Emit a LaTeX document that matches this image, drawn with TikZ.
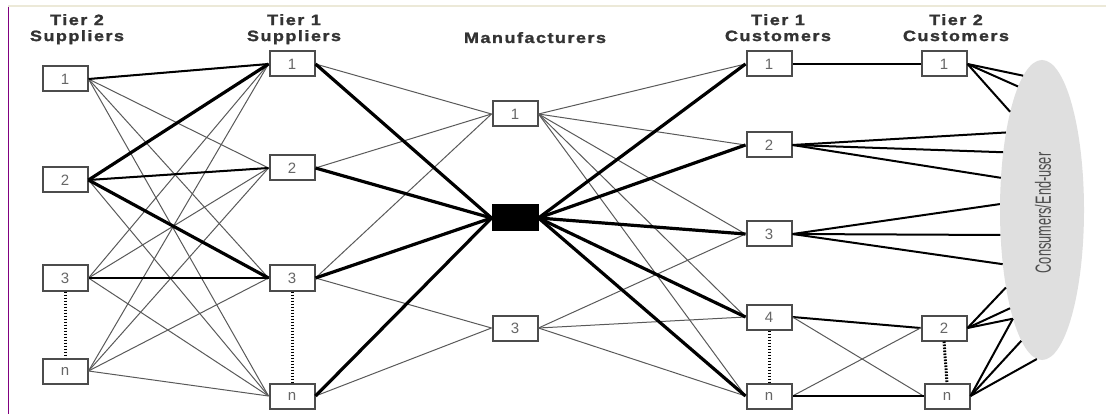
\documentclass[tikz,border=0pt]{standalone}
\usepackage{fontspec}
\setmainfont{Liberation Sans}
\newfontfamily\hdrfont[FakeStretch=1.2,LetterSpace=10,FakeBold=1.5]{Liberation Sans}
\newfontfamily\narrowfont[FakeStretch=0.58]{Liberation Sans}
\usetikzlibrary{shapes.geometric}
\definecolor{pagetop}{RGB}{236,233,216}
\definecolor{pageleft}{RGB}{128,0,128}
\tikzset{font=\fontsize{15}{16}\selectfont}
\tikzset{box/.style={draw=black!70, line width=2pt, fill=white,
    minimum width=45pt, minimum height=25pt, inner sep=0pt, text=black!60}}
\tikzset{hdr/.style={font=\hdrfont\bfseries\fontsize{15}{16}\selectfont,
    text=black!80, align=center, inner sep=0pt}}
\tikzset{thin link/.style={draw=black!65, line width=1pt}}
\tikzset{mid link/.style={draw=black, line width=2pt}}
\tikzset{thick link/.style={draw=black, line width=3.2pt}}
\tikzset{dots/.style={draw=black, line width=3pt, dash pattern=on 1.6pt off 1.4pt}}

\begin{document}
\begin{tikzpicture}[x=1pt,y=-1pt]
  \useasboundingbox (0,0) rectangle (1106,414);
  \draw[pagetop, line width=2pt] (8,6)--(1106,6);
  \draw[pageleft, line width=1.5pt] (8.5,7)--(8.5,414);

  % column heads
  \node[hdr, anchor=north] (hsa) at (77,14) {Tier 2\\Suppliers};
  \node[hdr, anchor=north] (hsb) at (294,14) {Tier 1\\Suppliers};
  \node[hdr, anchor=base] (hm) at (535,43) {Manufacturers};
  \node[hdr, anchor=north] (hca) at (778,14) {Tier 1\\Customers};
  \node[hdr, anchor=north] (hcb) at (956,14) {Tier 2\\Customers};

  % consumers
  \node[ellipse, fill=gray!25, minimum width=84pt, minimum height=300pt,
        inner sep=0pt] (users) at (1042,210) {};
  \node[rotate=90, text=black!70, inner sep=0pt,
        font=\narrowfont\fontsize{22}{24}\selectfont] (userstxt) at (1043,213)
        {Consumers/End-user};

  % boxes
  \foreach \n/\y in {1/79, 2/180, 3/278, n/371}
    \node[box] (sa\n) at (65,\y) {\n};
  \foreach \n/\y in {1/64, 2/168, 3/278, n/396}
    \node[box] (sb\n) at (292,\y) {\n};
  \node[box] (m1) at (515,114) {1};
  \node[box, fill=black, draw=black] (m2) at (515,218) {};
  \node[box] (m3) at (515,328) {3};
  \foreach \n/\y in {1/64, 2/145, 3/234, 4/317, n/396}
    \node[box] (ca\n) at (769,\y) {\n};
  \node[box] (cb1) at (944,64) {1};
  \node[box] (cb2) at (944,328) {2};
  \node[box] (cbn) at (947,396) {n};

  % tier 2 -> tier 1 suppliers
  \foreach \i in {1,2,3,n}
    \foreach \j in {1,2,3,n}
      \draw[thin link] (sa\i.east)--(sb\j.west);
  \draw[mid link] (sa1.east)--(sb1.west);
  \draw[thick link] (sa2.east)--(sb1.west);
  \draw[mid link] (sa2.east)--(sb2.west);
  \draw[thick link] (sa2.east)--(sb3.west);
  \draw[mid link] (sa3.east)--(sb3.west);

  % tier 1 suppliers -> manufacturers
  \foreach \i/\j in {1/1, 2/1, 3/1, 3/3, n/3}
    \draw[thin link] (sb\i.east)--(m\j.west);
  \foreach \i in {1,2,3,n}
    \draw[thick link] (sb\i.east)--(m2.west);

  % manufacturers -> tier 1 customers
  \foreach \j in {1,2,3,4,n}
    \draw[thin link] (m1.east)--(ca\j.west);
  \foreach \j in {3,4,n}
    \draw[thin link] (m3.east)--(ca\j.west);
  \foreach \j in {1,2,3,4,n}
    \draw[thick link] (m2.east)--(ca\j.west);

  % tier 1 -> tier 2 customers
  \draw[mid link] (ca1.east)--(cb1.west);
  \draw[mid link] (ca4.east)--(cb2.west);
  \draw[thin link] (ca4.east)--(cbn.west);
  \draw[thin link] (can.east)--(cb2.west);
  \draw[mid link] (can.east)--(cbn.west);

  % out to the end users
  \foreach \a in {115,124,142}
    \draw[mid link] (ca2.east)--(users.\a);
  \foreach \a in {172,211,234}
    \draw[mid link] (ca3.east)--(users.\a);
  \foreach \a in {98,101,108}
    \draw[mid link] (cb1.east)--(users.\a);
  \foreach \a in {245,252,255}
    \draw[mid link] (cb2.east)--(users.\a);
  \foreach \a in {255,261,268}
    \draw[mid link] (cbn.east)--(users.\a);

  % and so on
  \draw[dots] (sa3.south)--(san.north);
  \draw[dots] (sb3.south)--(sbn.north);
  \draw[dots] (ca4.south)--(can.north);
  \draw[dots] (cb2.south)--(cbn.north);
\end{tikzpicture}
\end{document}
